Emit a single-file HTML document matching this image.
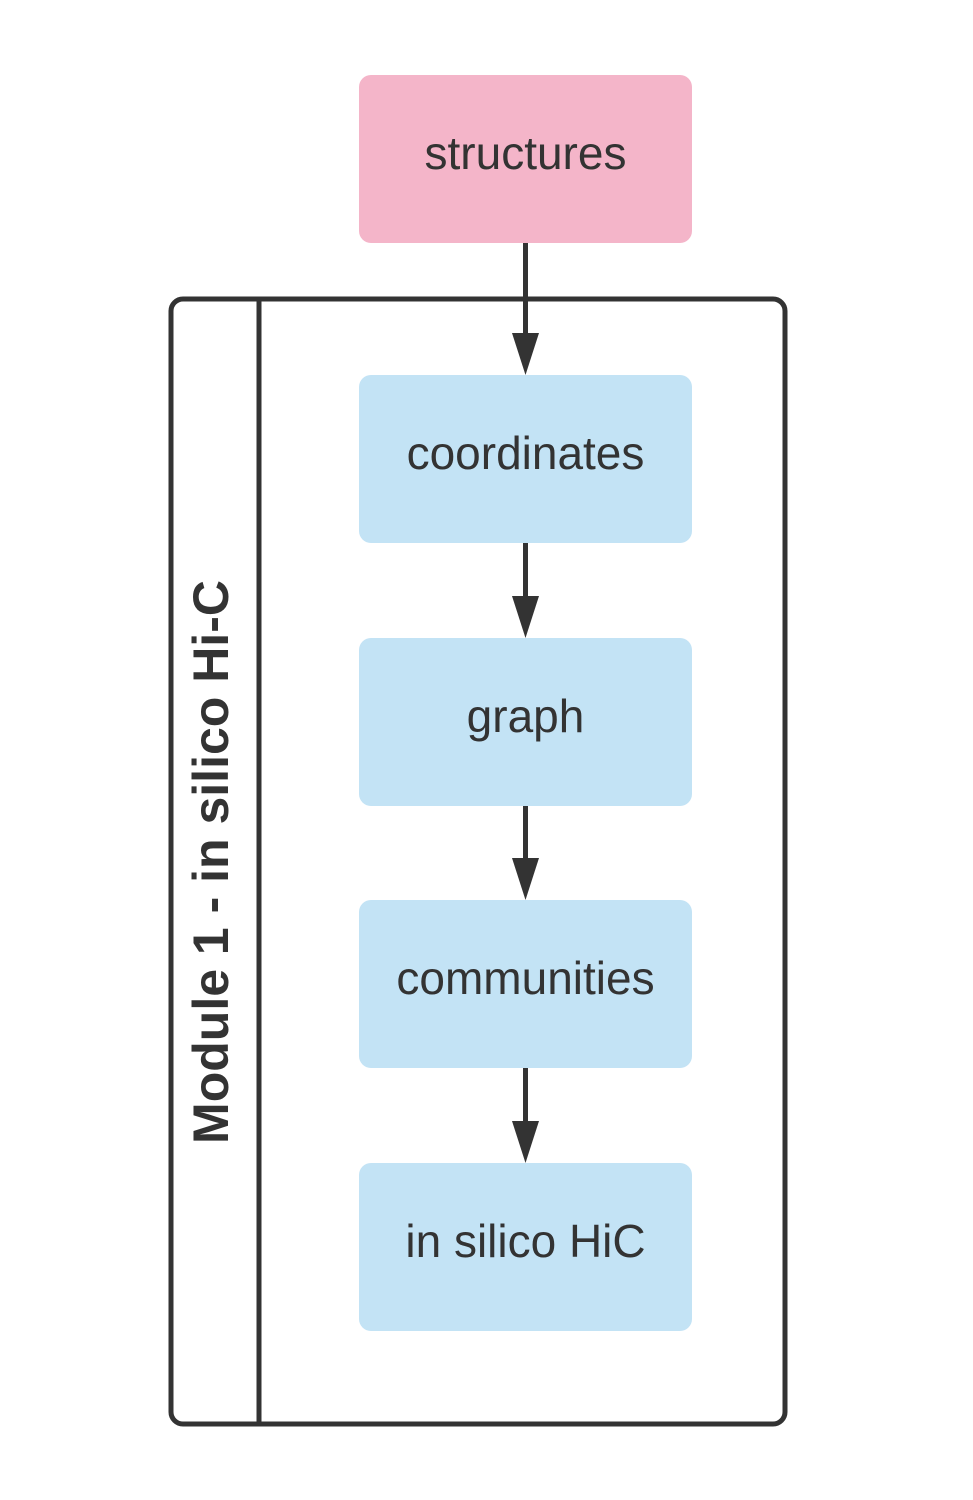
<!DOCTYPE html>
<html><head><meta charset="utf-8"><style>
html,body{margin:0;padding:0;background:#fff;}
svg{display:block;}
text{font-family:"Liberation Sans",Arial,sans-serif;fill:#333;}
</style></head><body>
<svg width="973" height="1500" viewBox="0 0 973 1500" xmlns="http://www.w3.org/2000/svg">
<rect x="0" y="0" width="973" height="1500" fill="#fff"/>
<rect x="171" y="299" width="614" height="1125" rx="12" fill="none" stroke="#333" stroke-width="5"/>
<line x1="259" y1="299" x2="259" y2="1424" stroke="#333" stroke-width="5"/>
<text x="0" y="0" transform="translate(228,862) rotate(-90)" text-anchor="middle" font-size="50" font-weight="bold">Module 1 - in silico Hi-C</text>

<rect x="359" y="75" width="333" height="168" rx="12" fill="#f4b5c9"/>
<text x="525.5" y="169" text-anchor="middle" font-size="46">structures</text>

<rect x="359" y="375" width="333" height="168" rx="12" fill="#c3e3f5"/>
<text x="525.5" y="469" text-anchor="middle" font-size="46">coordinates</text>

<rect x="359" y="638" width="333" height="168" rx="12" fill="#c3e3f5"/>
<text x="525.5" y="732" text-anchor="middle" font-size="46">graph</text>

<rect x="359" y="900" width="333" height="168" rx="12" fill="#c3e3f5"/>
<text x="525.5" y="994" text-anchor="middle" font-size="46">communities</text>

<rect x="359" y="1163" width="333" height="168" rx="12" fill="#c3e3f5"/>
<text x="525.5" y="1257" text-anchor="middle" font-size="46">in silico HiC</text>

<g stroke="#333" stroke-width="5">
<line x1="525.5" y1="243" x2="525.5" y2="340"/>
<line x1="525.5" y1="543" x2="525.5" y2="603"/>
<line x1="525.5" y1="806" x2="525.5" y2="866"/>
<line x1="525.5" y1="1068" x2="525.5" y2="1128"/>
</g>
<g fill="#333">
<polygon points="512,333 539,333 525.5,375"/>
<polygon points="512,596 539,596 525.5,638"/>
<polygon points="512,858 539,858 525.5,900"/>
<polygon points="512,1121 539,1121 525.5,1163"/>
</g>
</svg>
</body></html>
